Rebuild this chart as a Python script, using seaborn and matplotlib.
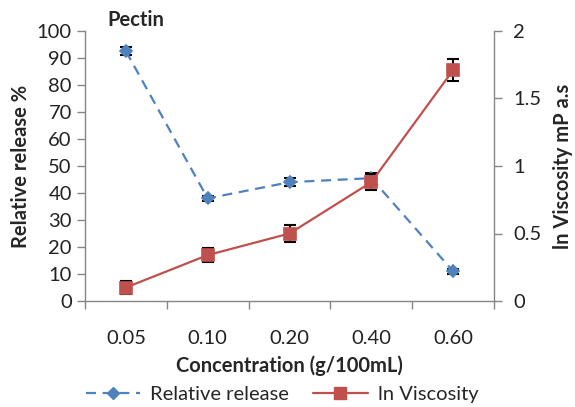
import matplotlib
matplotlib.use('Agg')
import matplotlib.pyplot as plt
from matplotlib.lines import Line2D
import seaborn as sns
import pandas as pd
import numpy as np

categories = ["0.05", "0.10", "0.20", "0.40", "0.60"]
release = [92.5, 38.0, 44.0, 45.5, 11.0]
release_err = [1.5, 1.0, 1.5, 1.8, 1.0]
viscosity = [0.10, 0.34, 0.50, 0.88, 1.71]
viscosity_err = [0.05, 0.05, 0.06, 0.06, 0.08]

title = "Pectin"
xlabel = "Concentration (g/100mL)"
ylabel_left = "Relative release %"
ylabel_right = "ln Viscosity mP a.s"
series_names = ["Relative release", "ln Viscosity"]

blue = "#4F81BD"
red = "#C0504D"
gray = "#868686"
fs = 14.5

sns.set_theme(style="white")
plt.rcParams['font.family'] = ['Lato', 'DejaVu Sans']

df = pd.DataFrame({"Concentration": categories, "release": release, "viscosity": viscosity})

fig = plt.figure(figsize=(5.75, 4.07), dpi=100)
ax = fig.add_axes([85/575, 1-301/407, 409/575, 270/407])
ax2 = ax.twinx()

sns.pointplot(data=df, x="Concentration", y="release", ax=ax, color=blue,
              markers="D", linestyles="--", errorbar=None, markersize=6, linewidth=1.6)
for ln in ax.lines:
    ln.set_dashes((4.5, 3))
ax.errorbar(np.arange(len(categories)), release, yerr=release_err, fmt="none",
            ecolor="black", elinewidth=1.5, capsize=4, capthick=1.5, zorder=1)

sns.pointplot(data=df, x="Concentration", y="viscosity", ax=ax2, color=red,
              markers="s", linestyles="-", errorbar=None, markersize=9, linewidth=1.6)
ax2.errorbar(np.arange(len(categories)), viscosity, yerr=viscosity_err, fmt="none",
             ecolor="black", elinewidth=1.5, capsize=4, capthick=1.5, zorder=1)

ax.set_xlim(-0.5, len(categories) - 0.5)
ax.set_ylim(0, 100)
ax.set_yticks(range(0, 101, 10))
ax2.set_ylim(0, 2)
ax2.set_yticks([0, 0.5, 1, 1.5, 2])
ax2.set_yticklabels(["0", "0.5", "1", "1.5", "2"])

ax.set_xticks(range(len(categories)))
ax.set_xticklabels(categories)
ax.set_xticks(np.arange(-0.5, len(categories)), minor=True)
ax.tick_params(axis="x", which="major", length=0, pad=21, labelsize=fs, labelcolor="#222222")
ax.tick_params(axis="x", which="minor", length=6, width=1, color=gray, direction="out", bottom=True)
ax.tick_params(axis="y", length=6, width=1, color=gray, direction="out", left=True, labelsize=fs, labelcolor="#222222")
ax2.tick_params(axis="y", length=6, width=1, color=gray, direction="out", right=True, labelsize=fs, labelcolor="#222222", pad=8)

for a in (ax, ax2):
    for s in a.spines.values():
        s.set_color(gray)
        s.set_linewidth(1)
    a.spines["top"].set_visible(False)
ax.spines["right"].set_visible(False)
ax2.spines["left"].set_visible(False)
ax2.spines["bottom"].set_visible(False)

ax.set_xlabel(xlabel, fontsize=fs, fontweight="bold", labelpad=6)
ax.set_ylabel(ylabel_left, fontsize=fs, fontweight="bold", labelpad=4)
ax2.set_ylabel(ylabel_right, fontsize=fs, fontweight="bold", labelpad=8)

fig.text(107/575, 1-20/407, title, fontsize=fs, fontweight="bold", va="center", ha="left")

handles = [
    Line2D([], [], color=blue, linestyle="--", dashes=(4.5, 3), marker="D", markersize=6, linewidth=1.6),
    Line2D([], [], color=red, linestyle="-", marker="s", markersize=9, linewidth=1.6),
]
fig.legend(handles, series_names, loc="center", bbox_to_anchor=(282/575, 1-394/407),
           ncol=2, frameon=False, fontsize=fs, handlelength=2.7, columnspacing=1.2,
           handletextpad=0.5)

fig.savefig("out.png", dpi=100)
